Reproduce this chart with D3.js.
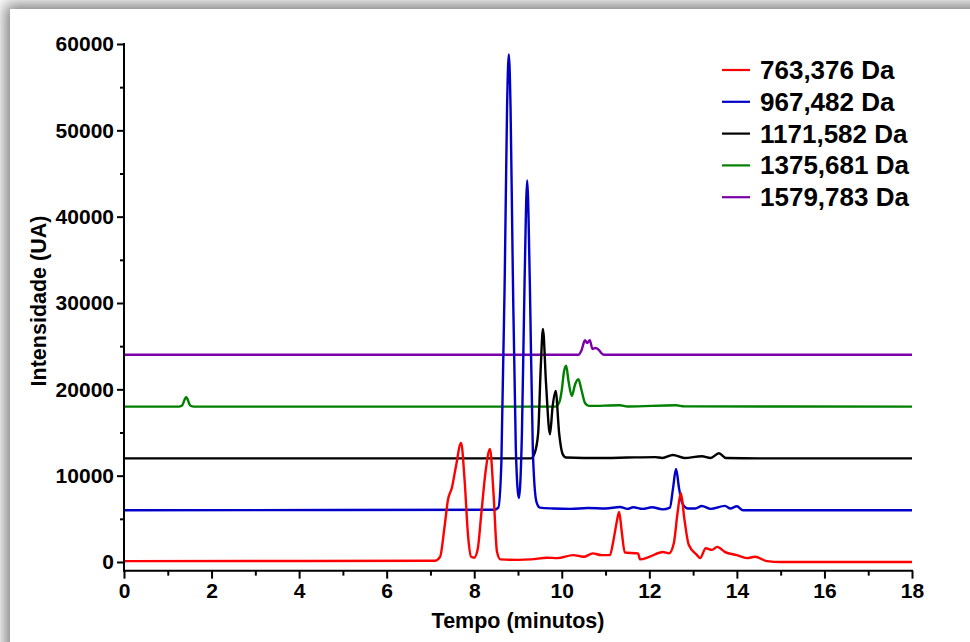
<!DOCTYPE html>
<html lang="pt">
<head>
<meta charset="UTF-8">
<title>Cromatograma</title>
<style>
    body{
        margin:0;
        background:#fff;
        overflow:hidden;
    }
    .panel{
        position:absolute;
        left:10px;
        top:9px;
        width:1100px;
        height:800px;
        background:#fff;
        box-shadow:0 0 14px 5px rgba(0,0,0,0.5);
    }
    svg{
        position:absolute;
        left:0;
        top:0;
    }
    text{
        font-family:"Liberation Sans", Arial, sans-serif;
        font-weight:bold;
        fill:#000;
    }
</style>
<script src="https://cdnjs.cloudflare.com/ajax/libs/d3/7.8.5/d3.min.js"></script>
</head>
<body>
<div class="panel"></div>
<script>

var w = 970;
var h = 642;

// series labels, colours and the vertical offset each trace is plotted with
var seriesNames = ["763,376 Da", "967,482 Da", "1171,582 Da", "1375,681 Da", "1579,783 Da"];
var seriesColors = ["#ff0000", "#0000c8", "#000000", "#008000", "#7a00a8"];
var offsets = [0, 6000, 12000, 18000, 24000];

// tick values
var xTicks = [0, 2, 4, 6, 8, 10, 12, 14, 16, 18];
var xMinorTicks = [1, 3, 5, 7, 9, 11, 13, 15, 17];
var yTicks = [0, 10000, 20000, 30000, 40000, 50000, 60000];
var yMinorTicks = [5000, 15000, 25000, 35000, 45000, 55000];

// 763,376 Da
var redTime  = [0, 7.1, 7.22, 7.32, 7.40, 7.49, 7.58, 7.70, 7.78, 7.86, 7.93, 8.00, 8.08, 8.16, 8.26, 8.36, 8.44, 8.52, 8.6,
    9.0, 9.3, 9.66, 9.9, 10.26, 10.5, 10.71, 10.9, 11.10, 11.18, 11.25, 11.31, 11.37, 11.44, 11.74, 11.79, 12.0, 12.31,
    12.45, 12.56, 12.64, 12.72, 12.80, 12.90, 13.09, 13.16, 13.29, 13.43, 13.55, 13.73, 14.0, 14.23, 14.41, 14.69, 15, 18];
var redValue = [100, 150, 600, 4000, 7200, 8600, 11000, 13800, 9500, 3000, 600, 500, 1500, 5500, 10500, 13100, 8000, 1200, 300,
    250, 300, 500, 450, 800, 600, 1000, 800, 800, 2500, 4500, 5800, 3500, 1100, 1000, 300, 600, 1150,
    1000, 2200, 5500, 8000, 5000, 2000, 800, 450, 1600, 1400, 1750, 1150, 800, 450, 600, 100, 0, 0];

// 967,482 Da
var blueTime  = [0, 8.45, 8.55, 8.62, 8.70, 8.75, 8.79, 8.83, 8.88, 8.95, 9.02, 9.09, 9.15, 9.21, 9.27, 9.34, 9.42, 9.50,
    9.8, 10.2, 10.6, 11.0, 11.33, 11.5, 11.63, 11.85, 12.06, 12.3, 12.47, 12.54, 12.61, 12.68, 12.75, 12.88, 13.05,
    13.20, 13.4, 13.73, 13.85, 14.0, 14.14, 18];
var blueValue = [0, 50, 300, 5500, 28000, 46600, 52800, 46600, 28000, 7150, 1400, 9000, 26400, 38200, 26400, 6760, 1000, 300,
    200, 150, 250, 200, 370, 150, 350, 150, 350, 100, 300, 2500, 4770, 2500, 830, 200, 200,
    490, 150, 500, 200, 450, 0, 0];

// 1171,582 Da
var blackTime  = [0, 9.30, 9.38, 9.46, 9.52, 9.57, 9.64, 9.73, 9.79, 9.86, 9.94, 10.02, 10.10, 10.5, 11.0, 11.5, 12.13,
    12.3, 12.54, 12.8, 13.2, 13.4, 13.59, 13.75, 14.5, 18];
var blackValue = [0, 0, 600, 2900, 10600, 15000, 8700, 2800, 5960, 7800, 2900, 500, 100, 50, 50, 100, 150,
    50, 400, 50, 250, 50, 600, 50, 0, 0];

// 1375,681 Da
var greenTime  = [0, 1.25, 1.32, 1.42, 1.52, 1.6, 9.85, 9.95, 10.0, 10.05, 10.10, 10.15, 10.23, 10.30, 10.38, 10.45,
    10.53, 10.62, 11.33, 11.5, 12.61, 12.8, 18];
var greenValue = [0, 0, 100, 1080, 100, 0, 0, 600, 1920, 4040, 4740, 3080, 1230, 2500, 3160, 1920,
    420, 80, 150, 20, 150, 30, 0];

// 1579,783 Da
var purpleTime  = [0, 10.38, 10.45, 10.53, 10.58, 10.64, 10.70, 10.76, 10.84, 10.90, 10.96, 18];
var purpleValue = [0, 0, 500, 1680, 1370, 1680, 680, 790, 600, 220, 0, 0];

var times = [redTime, blueTime, blackTime, greenTime, purpleTime];
var values = [redValue, blueValue, blackValue, greenValue, purpleValue];

var xScale = d3.scaleLinear().domain([0, 18]).range([124, 912]);
var yScale = d3.scaleLinear().domain([0, 60000]).range([562, 44]);
var axisY = yScale(-1000);

var svg = d3.select("body")
        .append("svg")
        .attr("width", w)
        .attr("height", h);

// traces, red last so it sits on top
var line = d3.line()
        .x(function(d) { return xScale(d.t); })
        .y(function(d) { return yScale(d.v); })
        .curve(d3.curveMonotoneX);

var order = [4, 3, 2, 1, 0];
order.forEach(function(k) {
    var pts = times[k].map(function(t, i) {
        return {t: t, v: values[k][i] + offsets[k]};
    });
    svg.append("path")
            .datum(pts)
            .attr("d", line)
            .attr("fill", "none")
            .attr("stroke", seriesColors[k])
            .attr("stroke-width", 2.4)
            .attr("stroke-linejoin", "round");
});

//Axes
svg.append("g")
        .attr("transform", "translate(0," + axisY + ")")
        .call(d3.axisBottom(xScale).tickValues(xTicks).tickSize(8).tickSizeOuter(0).tickPadding(4)
                .tickFormat(d3.format("d")));
svg.append("g")
        .attr("transform", "translate(0," + axisY + ")")
        .call(d3.axisBottom(xScale).tickValues(xMinorTicks).tickSize(5).tickSizeOuter(0).tickFormat(""));

svg.append("g")
        .attr("transform", "translate(" + xScale(0) + ",0)")
        .call(d3.axisLeft(yScale).tickValues(yTicks).tickSize(7).tickSizeOuter(0).tickPadding(3)
                .tickFormat(d3.format("d")));
svg.append("g")
        .attr("transform", "translate(" + xScale(0) + ",0)")
        .call(d3.axisLeft(yScale).tickValues(yMinorTicks).tickSize(4).tickSizeOuter(0).tickFormat(""));

svg.selectAll(".domain").remove();
svg.selectAll(".tick line").attr("stroke", "#000").attr("stroke-width", 2);
svg.selectAll(".tick text").attr("font-size", "21px")
        .attr("font-family", "Liberation Sans, Arial, sans-serif")
        .attr("font-weight", "bold");

svg.append("line")
        .attr("x1", xScale(0)).attr("x2", xScale(0))
        .attr("y1", yScale(60000) - 1).attr("y2", axisY + 1)
        .attr("stroke", "#000").attr("stroke-width", 2);
svg.append("line")
        .attr("x1", xScale(0) - 1).attr("x2", xScale(18) + 1)
        .attr("y1", axisY).attr("y2", axisY)
        .attr("stroke", "#000").attr("stroke-width", 2);

// axis titles
svg.append("text")
        .attr("x", (xScale(0) + xScale(18)) / 2)
        .attr("y", 628)
        .attr("text-anchor", "middle")
        .attr("font-size", "21.5px")
        .text("Tempo (minutos)");

svg.append("text")
        .attr("transform", "translate(46," + 301 + ") rotate(-90)")
        .attr("text-anchor", "middle")
        .attr("font-size", "21.5px")
        .text("Intensidade (UA)");

// legend
var legend = svg.selectAll(".legend")
        .data(seriesNames)
        .enter()
        .append("g")
        .attr("class", "legend")
        .attr("transform", function(d, i) {
            return "translate(722," + (70 + i * 31.8) + ")";
        });
legend.append("line")
        .attr("x1", 0).attr("x2", 28)
        .attr("stroke", function(d, i) { return seriesColors[i]; })
        .attr("stroke-width", 2.2);
legend.append("text")
        .attr("x", 38)
        .attr("y", 9)
        .attr("font-size", "26px")
        .text(function(d) { return d; });

</script>
</body>
</html>
